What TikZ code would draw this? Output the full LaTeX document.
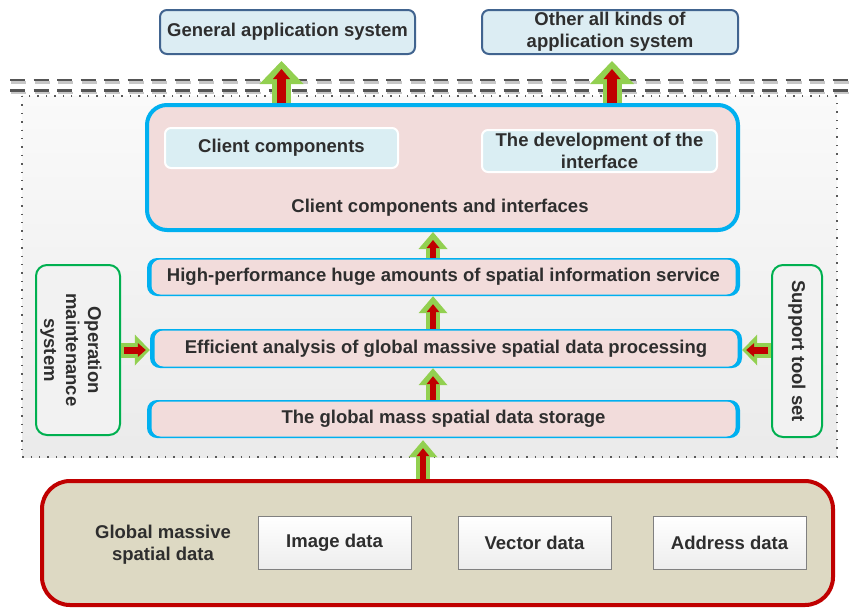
\documentclass[tikz,border=0pt]{standalone}
\usepackage{fontspec}
\setmainfont{Liberation Sans}
\usetikzlibrary{arrows.meta}
\definecolor{txt}{HTML}{2E2E2E}
\definecolor{topfill}{HTML}{DCEDF3}
\definecolor{topdraw}{HTML}{41648F}
\definecolor{pinkf}{HTML}{F2DCDB}
\definecolor{cyanb}{HTML}{00B0F0}
\definecolor{innerf}{HTML}{DAEEF3}
\definecolor{agreen}{HTML}{92D050}
\definecolor{ared}{HTML}{C00000}
\definecolor{sideg}{HTML}{00B050}
\definecolor{tanf}{HTML}{DDD9C3}
\definecolor{dashc}{HTML}{555555}
\tikzset{
  lbl/.style={font=\fontsize{18.5}{22}\selectfont\bfseries, text=txt, align=center, inner sep=0pt},
  topbox/.style={lbl, draw=topdraw, line width=2pt, fill=topfill, rounded corners=7pt, minimum width=255pt, minimum height=44pt},
  layerout/.style={fill=cyanb, rounded corners=10pt, inner sep=0pt},
  layerin/.style={lbl, fill=pinkf, rounded corners=9pt},
  clientbox/.style={draw=cyanb, line width=4pt, fill=pinkf, rounded corners=20pt, inner sep=0pt},
  innerbox/.style={lbl, draw=white, line width=2pt, fill=innerf, rounded corners=6pt},
  sidebox/.style={draw=sideg, line width=2pt, fill=black!5, rounded corners=11pt, inner sep=0pt},
  basebox/.style={draw=ared, line width=4pt, fill=tanf, rounded corners=28pt, inner sep=0pt},
  databox/.style={lbl, draw=black!50, line width=1pt, top color=white, bottom color=black!7, minimum width=153pt, minimum height=53pt},
  bigG/.style={line width=19pt, agreen, -{Triangle[length=23pt,width=44pt,line width=0pt]}},
  bigR/.style={line width=9.5pt, ared, -{Triangle[length=10pt,width=17pt,line width=0pt]}},
  smG/.style={line width=14pt, agreen, -{Triangle[length=17pt,width=29pt,line width=0pt]}},
  smR/.style={line width=6.5pt, ared, -{Triangle[length=8pt,width=13pt,line width=0pt]}},
  hG/.style={line width=15pt, agreen, -{Triangle[length=15pt,width=31pt,line width=0pt]}},
  hR/.style={line width=7pt, ared, -{Triangle[length=8pt,width=14pt,line width=0pt]}},
  dashline/.style={dashc, line width=2.6pt, dash pattern=on 15pt off 8.5pt},
  dashshadow/.style={black!22, line width=2.6pt, dash pattern=on 15pt off 8.5pt},
}
\begin{document}
\begin{tikzpicture}[x=1pt,y=-1pt]
\useasboundingbox (0,0) rectangle (850,608);
\fill[white] (0,0) rectangle (850,608);

% dotted frame
\draw[black!65, line width=1.4pt, dash pattern=on 1.4pt off 7pt, top color=black!2, bottom color=black!8] (22,96) rectangle (837,457);

% dashed separator lines
\draw[dashshadow] (11,82.5) -- (851,82.5);
\draw[dashshadow] (11,93) -- (851,93);
\draw[dashline] (10,80) -- (850,80);
\draw[dashline] (10,90.5) -- (850,90.5);

% top boxes
\node[topbox] (gen) at (287.5,32) {General application system};
\node[topbox, minimum width=256pt] (oth) at (610,32) {Other all kinds of\\application system};

% client components box
\node[clientbox, minimum width=591pt, minimum height=125pt] (client) at (442.5,167.5) {};
\node[innerbox, minimum width=233pt, minimum height=40pt] (cc) at (281.5,148) {Client components};
\node[innerbox, minimum width=235pt, minimum height=42pt] (dev) at (599.5,151) {The development of the\\interface};
\node[lbl] (clbl) at (440,208) {Client components and interfaces};

% layers
\node[layerout, minimum width=593pt, minimum height=38pt] (hp) at (443.5,277) {};
\node[layerin, minimum width=584pt, minimum height=35pt] (hpt) at (443.5,277) {High-performance huge amounts of spatial information service};
\node[layerout, minimum width=592pt, minimum height=39pt] (ef) at (446,348.5) {};
\node[layerin, minimum width=583pt, minimum height=36pt] (eft) at (446,348.5) {Efficient analysis of global massive spatial data processing};
\node[layerout, minimum width=593pt, minimum height=38pt] (st) at (443.5,419) {};
\node[layerin, minimum width=584pt, minimum height=35pt] (stt) at (443.5,419) {The global mass spatial data storage};

% side boxes
\node[sidebox, minimum width=84pt, minimum height=170pt] (opm) at (78,350) {};
\node[lbl, rotate=-90] (opmt) at (71,350) {Operation\\maintenance\\system};
\node[sidebox, minimum width=50pt, minimum height=172pt] (sup) at (797,351) {};
\node[lbl, rotate=-90] (supt) at (sup) {Support tool set};

% base box
\node[basebox, minimum width=791pt, minimum height=124pt] (base) at (437.5,543) {};
\node[lbl] (gms) at (163,545) {Global massive\\spatial data};
\node[databox] (img) at (334.5,542.5) {Image data};
\node[databox] (vec) at (534.5,542.5) {Vector data};
\node[databox] (adr) at (729.5,542.5) {Address data};

% arrow coordinates
\coordinate (x1) at (281.5,0);
\coordinate (x2) at (612,0);
\coordinate (xm) at (433,0);
\coordinate (xb) at (423,0);

% top arrows
\draw[bigG, shorten >=6pt] (client.north -| x1) -- (gen.south -| x1);
\draw[bigR, shorten >=14pt] (client.north -| x1) -- (gen.south -| x1);
\draw[bigG, shorten >=6pt] (client.north -| x2) -- (oth.south -| x2);
\draw[bigR, shorten >=14pt] (client.north -| x2) -- (oth.south -| x2);

% layer arrows
\draw[smG] (hp.north -| xm) -- (client.south -| xm);
\draw[smR, shorten >=8pt] (hp.north -| xm) -- (client.south -| xm);
\draw[smG] (ef.north -| xm) -- (hp.south -| xm);
\draw[smR, shorten >=8pt] (ef.north -| xm) -- (hp.south -| xm);
\draw[smG] (st.north -| xm) -- (ef.south -| xm);
\draw[smR, shorten >=8pt] (st.north -| xm) -- (ef.south -| xm);
\draw[smG, shorten >=2pt] (base.north -| xb) -- (st.south -| xb);
\draw[smR, shorten >=10pt] (base.north -| xb) -- (st.south -| xb);

% side arrows
\draw[hG] (opm.east) -- (opm.east -| ef.west);
\draw[hR, shorten >=4pt] ([xshift=3pt]opm.east) -- (opm.east -| ef.west);
\draw[hG] (sup.west |- opm.east) -- (opm.east -| ef.east);
\draw[hR, shorten >=4pt] ([xshift=-3pt]sup.west |- opm.east) -- (opm.east -| ef.east);
\end{tikzpicture}
\end{document}
